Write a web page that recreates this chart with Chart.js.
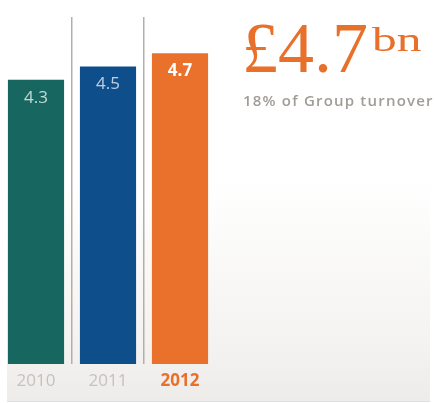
<!DOCTYPE html>
<html>
<head>
<meta charset="utf-8">
<script src="https://cdn.jsdelivr.net/npm/chart.js@4"></script>
<style>
  html,body{margin:0;padding:0;background:#fff;}
  #wrap{position:relative;width:435px;height:403px;overflow:hidden;}
  #bg{position:absolute;left:7px;top:0;width:423px;height:401px;
      background:linear-gradient(to bottom,#fff 0%,#fff 45%,#f4f3f1 85%,#eeece9 100%);
      border-bottom:1px solid #e2dfdc;}
  #cv{position:absolute;left:0;top:0;}
  .big{position:absolute;left:242px;top:8px;color:#e8702a;font-family:"Liberation Serif",serif;
       font-size:72px;line-height:80px;white-space:nowrap;}
  .big sup{display:inline-block;font-size:33px;vertical-align:top;line-height:44px;
       position:relative;top:10px;
       transform:scaleX(1.5);transform-origin:left;margin-left:4px;}
  .sub{position:absolute;left:243px;top:90px;color:#a29c97;font-family:"Open Sans",sans-serif;
       font-weight:600;font-size:15px;white-space:nowrap;letter-spacing:1.2px;}
</style>
</head>
<body>
<div id="wrap">
  <div id="bg"></div>
  <canvas id="cv" width="435" height="403"></canvas>
  <div class="big">£4.7<sup>bn</sup></div>
  <div class="sub">18% of Group turnover</div>
</div>
<script>
// 売上高（£bn）
const years=['2010','2011','2012'];
const sales=[4.3,4.5,4.7];
const barColors=['#17665f','#0e4e8b','#e9712c'];
const valColors=['rgba(225,235,235,.85)','rgba(220,228,240,.85)','#ffffff'];
const fontFam='"Open Sans", sans-serif';

// ── バー内の数値ラベル ───────────────────────────
const valueLabels={
  id:'valueLabels',
  afterDatasetsDraw(chart){
    const c=chart.ctx, meta=chart.getDatasetMeta(0);
    c.save();
    c.textAlign='center';c.textBaseline='middle';
    meta.data.forEach((bar,i)=>{
      c.font=(i===2?'bold ':'')+'17px '+fontFam;
      c.fillStyle=valColors[i];
      c.fillText(sales[i].toFixed(1),bar.x,bar.y+18);
    });
    c.restore();
  }
};

new Chart(document.getElementById('cv'),{
  type:'bar',
  data:{labels:years,datasets:[{data:sales,backgroundColor:barColors,
    barPercentage:0.78,categoryPercentage:1}]},
  options:{responsive:false,animation:false,
    layout:{padding:{top:17,right:219,left:0,bottom:0}},
    plugins:{legend:{display:false},tooltip:{enabled:false}},
    scales:{
      x:{offset:true,border:{display:false},
        grid:{offset:true,drawTicks:false,lineWidth:1.5,
          color:ctx=>(ctx.index===1||ctx.index===2)?'#b5ada7':'transparent'},
        ticks:{padding:7,
          color:ctx=>ctx.index===2?'#e8702a':'#c6c1bd',
          font:ctx=>({family:fontFam,size:17,weight:ctx.index===2?'bold':'normal'})},
        afterFit:s=>{s.height=39;}},
      y:{display:false,min:0,max:5.25}
    }},
  plugins:[valueLabels]
});
</script>
</body>
</html>
